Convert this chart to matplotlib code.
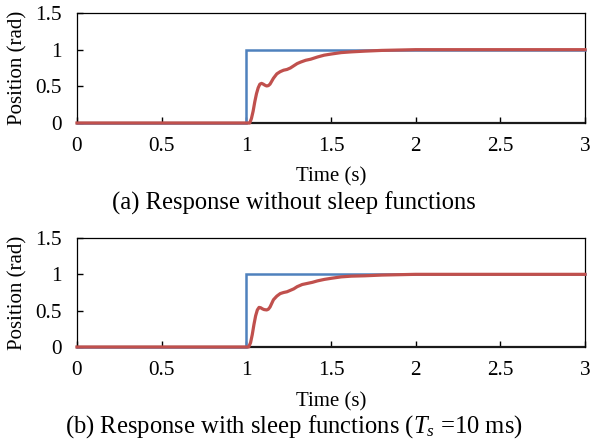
import matplotlib
matplotlib.use("Agg")
import matplotlib.pyplot as plt

# Reference (step) input
ref_t = [0.0, 1.0, 1.0, 3.0]
ref_y = [0.0, 0.0, 1.0, 1.0]

# (a) response without sleep functions
resp_a_t = [0.0, 1.00, 1.02, 1.03, 1.04, 1.05, 1.06, 1.07, 1.08, 1.09, 1.10, 1.11, 1.12, 1.13,
            1.14, 1.15, 1.16, 1.18, 1.20, 1.22, 1.24, 1.26, 1.28, 1.30, 1.32, 1.35, 1.38,
            1.42, 1.46, 1.50, 1.56, 1.62, 1.70, 1.80, 1.90, 2.00, 2.50, 3.00]
resp_a_y = [0.0, 0.0, 0.0, 0.06, 0.16, 0.29, 0.40, 0.48, 0.53, 0.54, 0.53, 0.515, 0.505, 0.51,
            0.53, 0.57, 0.61, 0.67, 0.70, 0.72, 0.73, 0.75, 0.78, 0.81, 0.83, 0.855, 0.87,
            0.90, 0.925, 0.94, 0.96, 0.97, 0.98, 0.99, 0.995, 1.0, 1.0, 1.0]

# (b) response with sleep functions (Ts = 10 ms)
resp_b_t = [0.0, 1.00, 1.014, 1.025, 1.035, 1.045, 1.055, 1.065, 1.075, 1.085, 1.095, 1.105,
            1.12, 1.13, 1.14, 1.15, 1.16, 1.18, 1.20, 1.22, 1.24, 1.26, 1.28, 1.30, 1.33,
            1.36, 1.39, 1.42, 1.46, 1.50, 1.56, 1.62, 1.70, 1.80, 1.90, 2.00, 2.50, 3.00]
resp_b_y = [0.0, 0.0, 0.0, 0.06, 0.17, 0.31, 0.43, 0.51, 0.545, 0.54, 0.525, 0.515,
            0.51, 0.52, 0.55, 0.60, 0.65, 0.70, 0.735, 0.75, 0.76, 0.78, 0.80, 0.83, 0.86,
            0.875, 0.89, 0.91, 0.93, 0.945, 0.965, 0.975, 0.98, 0.99, 0.995, 1.0, 1.0, 1.0]

x_ticks = [0, 0.5, 1, 1.5, 2, 2.5, 3]
x_labels = ["0", "0.5", "1", "1.5", "2", "2.5", "3"]
y_ticks = [0, 0.5, 1, 1.5]
y_labels = ["0", "0.5", "1", "1.5"]
x_title = "Time (s)"
y_title = "Position (rad)"
captions = ["(a) Response without sleep functions",
            "(b) Response with sleep functions ($T_s$ =10 ms)"]

plt.rcParams['font.family'] = ['Liberation Serif', 'DejaVu Serif']
plt.rcParams['mathtext.fontset'] = 'custom'
plt.rcParams['mathtext.it'] = 'Liberation Serif:italic'
plt.rcParams['mathtext.rm'] = 'Liberation Serif'

W, H = 592, 443
fig = plt.figure(figsize=(W / 100, H / 100), dpi=100)

blue = '#4F81BD'
red = '#C0504D'

layouts = [(13, 123), (238, 347)]
xlabel_y = [177, 402]
caption_y = [203, 427]
data = [(resp_a_t, resp_a_y), (resp_b_t, resp_b_y)]
left, right = 77, 585
tick_fs = 15.3

for i, ((top, bot), (rt, ry)) in enumerate(zip(layouts, data)):
    ax = fig.add_axes([left / W, 1 - bot / H, (right - left) / W, (bot - top) / H])
    ax.plot(ref_t, ref_y, color=blue, lw=1.8, solid_joinstyle='miter', zorder=3, clip_on=False)
    ax.plot(rt, ry, color=red, lw=2.3, zorder=4, clip_on=False)
    ax.set_xlim(0, 3)
    ax.set_ylim(0, 1.5)
    ax.set_xticks(x_ticks)
    ax.set_xticklabels(x_labels)
    ax.set_yticks(y_ticks)
    ax.set_yticklabels(y_labels)
    ax.tick_params(axis='both', direction='in', length=4, width=1, labelsize=tick_fs, color='black')
    ax.tick_params(axis='x', pad=10)
    ax.tick_params(axis='y', pad=11)
    for s in ['top', 'right', 'left']:
        ax.spines[s].set_linewidth(0.9)
        ax.spines[s].set_color('black')
    ax.spines['bottom'].set_linewidth(1.6)
    ax.spines['bottom'].set_color('#1a1a1a')
    ax.spines['bottom'].set_zorder(2)
    fig.text(331 / W, 1 - xlabel_y[i] / H, x_title, fontsize=15, ha='center', va='center')
    fig.text(18 / W, 1 - (top + bot) / 2 / H, y_title, fontsize=15, ha='center', va='center',
             rotation=90)
    fig.text(294 / W, 1 - caption_y[i] / H, captions[i], fontsize=17.7,
             ha='center', va='center')

fig.savefig("out.png", dpi=100)
